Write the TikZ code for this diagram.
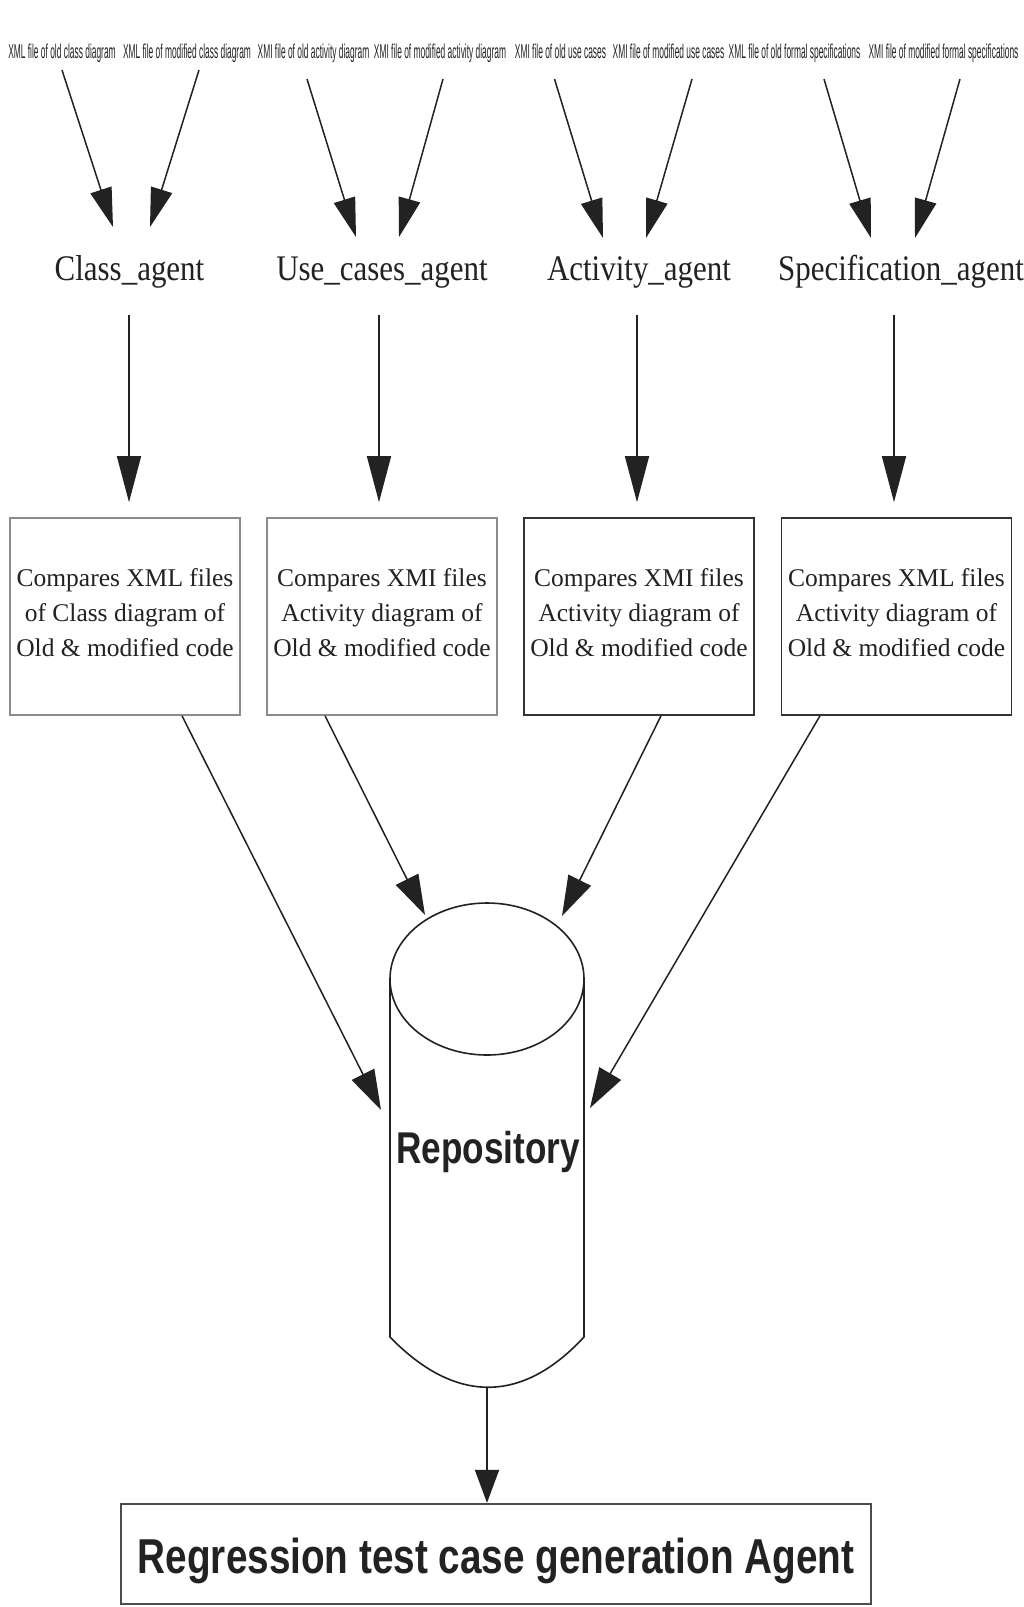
\documentclass[tikz,border=0pt]{standalone}
\usepackage{fontspec}
\setmainfont{Liberation Serif}
\newfontfamily\narrowfont[FakeStretch=0.42]{Liberation Sans}
\newfontfamily\agentfont[FakeStretch=0.86]{Liberation Serif}
\newfontfamily\boldnarrow[FakeStretch=0.79]{Liberation Sans}
\usetikzlibrary{arrows.meta,calc}
\definecolor{ink}{HTML}{222222}
\tikzset{
  toplbl/.style={inner sep=0pt, anchor=base, text=ink, font=\narrowfont\fontsize{20}{22}\selectfont},
  agentlbl/.style={inner sep=0pt, anchor=base, text=ink, font=\agentfont\fontsize{36}{40}\selectfont},
  cmpbox/.style={draw=#1, line width=1.6pt, minimum width=230pt, minimum height=197pt, inner sep=0pt,
     align=center, text=ink, font=\fontsize{25.5}{35}\selectfont},
  headA/.style={-{Triangle[length=39pt,width=22pt]}, line width=1.5pt, draw=ink},
  headB/.style={-{Triangle[length=46pt,width=24pt]}, line width=1.5pt, draw=ink},
  headC/.style={-{Triangle[length=40pt,width=25pt]}, line width=1.5pt, draw=ink},
  headD/.style={-{Triangle[length=33pt,width=24pt]}, line width=1.5pt, draw=ink},
}
\begin{document}
\begin{tikzpicture}[x=1pt,y=-1pt]
\useasboundingbox[fill=white] (0,0) rectangle (1024,1607);

% input file labels
\node[toplbl] (f1) at (62,58) {XML file of old class diagram};
\node[toplbl] (f2) at (187,58) {XML file of modified class diagram};
\node[toplbl] (f3) at (313.5,58) {XMI file of old activity diagram};
\node[toplbl] (f4) at (440,58) {XMI file of modified activity diagram};
\node[toplbl] (f5) at (560.5,58) {XMI file of old use cases};
\node[toplbl] (f6) at (668.5,58) {XMI file of modified use cases};
\node[toplbl] (f7) at (794.5,58) {XML file of old formal specifications};
\node[toplbl] (f8) at (943.5,58) {XMI file of modified formal specifications};

% agents
\node[agentlbl] (ag1) at (129.5,280) {Class\_agent};
\node[agentlbl] (ag2) at (382,280) {Use\_cases\_agent};
\node[agentlbl] (ag3) at (639,280) {Activity\_agent};
\node[agentlbl] (ag4) at (901,280) {Specification\_agent};

% top arrows
\draw[headA] ($(f1.base)+(0,12)$) -- ($(ag1.base)+(-16.5,-53)$);
\draw[headA] ($(f2.base)+(12,12)$) -- ($(ag1.base)+(20.5,-53)$);
\draw[headA] ($(f3.base)+(-6.5,21)$) -- ($(ag2.base)+(-26,-43)$);
\draw[headA] ($(f4.base)+(3,21)$) -- ($(ag2.base)+(17,-43)$);
\draw[headA] ($(f5.base)+(-6,21)$) -- ($(ag3.base)+(-36,-42)$);
\draw[headA] ($(f6.base)+(23.5,21)$) -- ($(ag3.base)+(7,-42)$);
\draw[headA] ($(f7.base)+(29.5,21)$) -- ($(ag4.base)+(-30,-42)$);
\draw[headA] ($(f8.base)+(16.5,21)$) -- ($(ag4.base)+(14,-42)$);

% compare boxes
\node[cmpbox=black!45] (b1) at (125,616.5) {Compares XML files\\of Class diagram of\\Old \& modified code\\[-27pt]};
\node[cmpbox=black!45] (b2) at (382,616.5) {Compares XMI files\\Activity diagram of\\Old \& modified code\\[-27pt]};
\node[cmpbox=black!80] (b3) at (639,616.5) {Compares XMI files\\Activity diagram of\\Old \& modified code\\[-27pt]};
\node[cmpbox=black!80] (b4) at (896.5,616.5) {Compares XML files\\Activity diagram of\\Old \& modified code\\[-27pt]};

% agent -> box arrows
\draw[headB] ($(ag1.base)+(-0.5,35)$) -- ($(b1.north)+(4,-15)$);
\draw[headB] ($(ag2.base)+(-3,35)$) -- ($(b2.north)+(-3,-15)$);
\draw[headB] ($(ag3.base)+(-2,35)$) -- ($(b3.north)+(-2,-15)$);
\draw[headB] ($(ag4.base)+(-7,35)$) -- ($(b4.north)+(-2.5,-15)$);

% repository cylinder
\node[inner sep=0pt, minimum width=194pt, minimum height=484pt] (repo) at (487,1145) {};
\draw[line width=1.6pt, draw=ink]
  (390,979) -- (390,1337) .. controls (455,1404) and (522,1404) .. (584,1337) -- (584,979);
\draw[line width=1.6pt, draw=ink, fill=white] (487,979) ellipse [x radius=97, y radius=76];
\node[inner sep=0pt, anchor=base, text=ink, font=\boldnarrow\bfseries\fontsize{44.5}{48}\selectfont]
  (repolbl) at (488,1163) {Repository};

% box -> repository arrows
\draw[headC] ($(b1.south)+(57,0)$) -- ($(repo.center)+(-106,-35)$);
\draw[headC] ($(b2.south)+(-57,0)$) -- ($(repo.center)+(-62,-230)$);
\draw[headC] ($(b3.south)+(22,0)$) -- ($(repo.center)+(75,-229)$);
\draw[headC] ($(b4.south)+(-76.5,0)$) -- ($(repo.center)+(103,-37)$);

% final agent
\node[draw=black!70, line width=2.2pt, minimum width=750pt, minimum height=100pt, inner sep=0pt,
      text height=48pt, text depth=10pt, text=ink,
      font=\boldnarrow\bfseries\fontsize{49}{52}\selectfont] (fin) at (496,1554)
  {Regression test case generation Agent};
\draw[headD] (repo.south) -- (repo.south |- fin.north);
\end{tikzpicture}
\end{document}
